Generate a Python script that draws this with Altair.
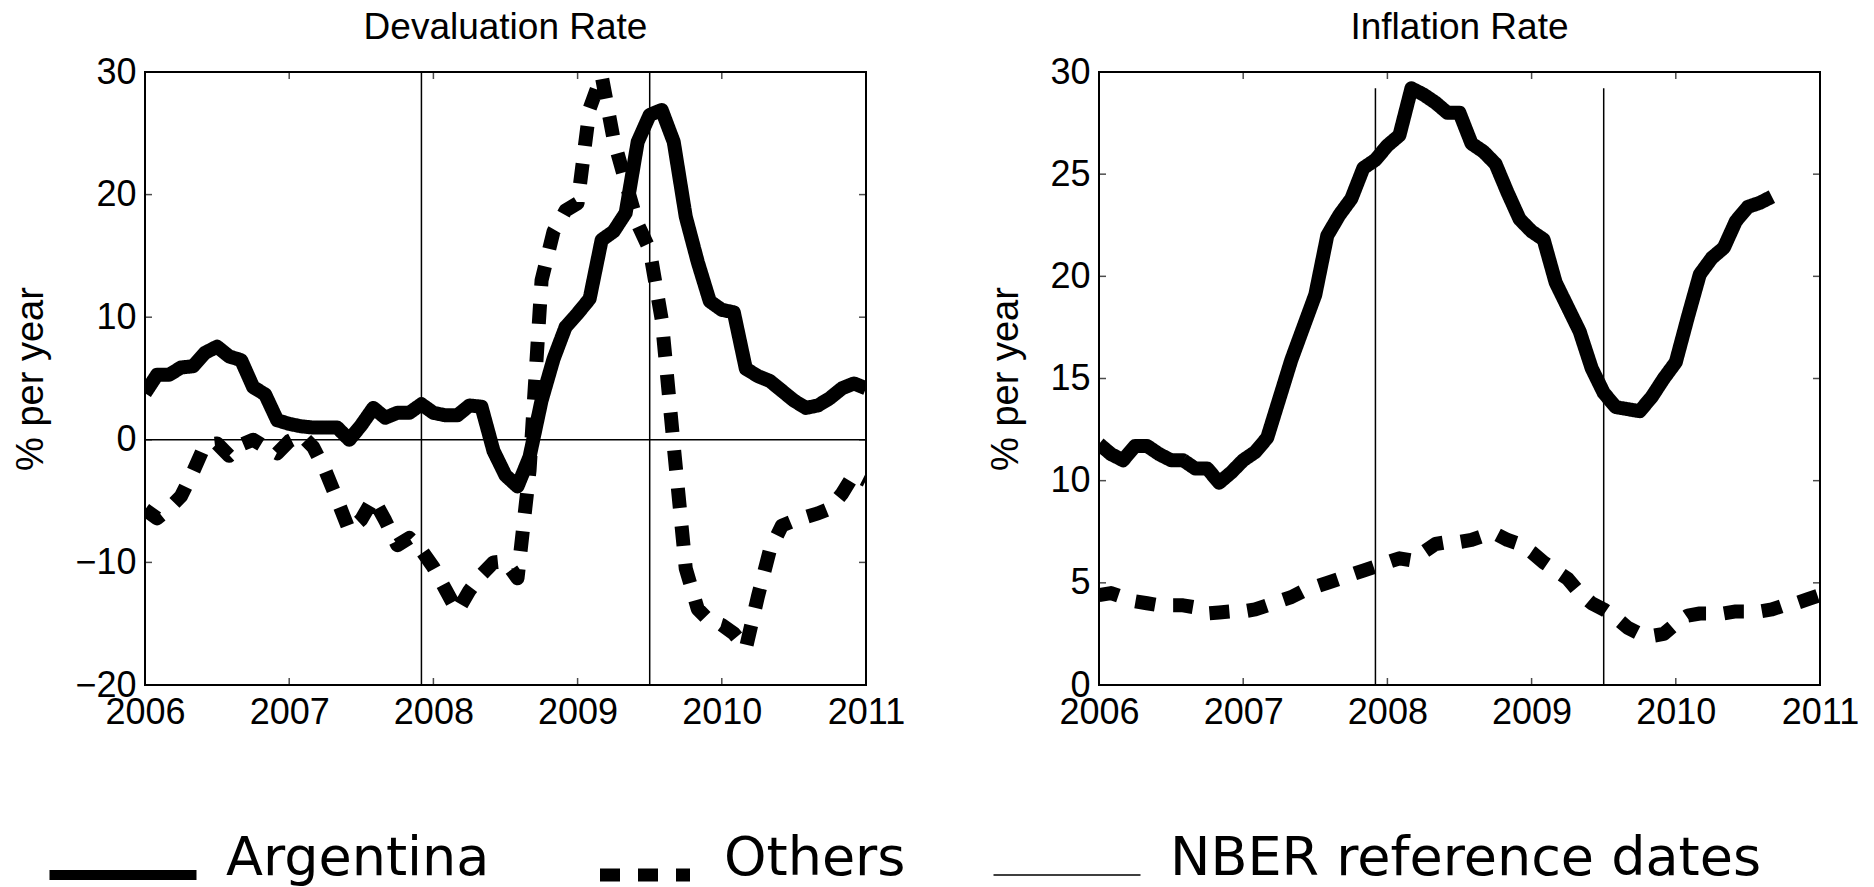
import altair as alt
import pandas as pd

# ---------------- data ----------------
series_names = ["Argentina", "Others", "NBER reference dates"]
year_ticks = [2006, 2007, 2008, 2009, 2010, 2011]
deval_ticks = [-20, -10, 0, 10, 20, 30]
infl_ticks = [0, 5, 10, 15, 20, 25, 30]
nber_dates = [2007.917, 2009.5]

# monthly observations, month 0 = Jan 2006
arg_deval = [3.8, 5.3, 5.3, 5.9, 6.0, 7.1, 7.6, 6.8, 6.5, 4.3,
             3.7, 1.6, 1.3, 1.1, 1.0, 1.0, 1.0, 0.0, 1.2, 2.6,
             1.8, 2.2, 2.2, 2.9, 2.2, 2.0, 2.0, 2.8, 2.7, -0.9,
             -2.9, -3.8, -1.4, 3.2, 6.6, 9.2, 10.3, 11.5, 16.3, 17.0,
             18.5, 24.3, 26.5, 26.9, 24.3, 18.2, 14.5, 11.3, 10.6, 10.4,
             5.8, 5.2, 4.8, 4.0, 3.2, 2.6, 2.8, 3.4, 4.2, 4.6, 4.2]
oth_deval = [-5.7, -6.4, -5.6, -4.6, -2.6, -0.4, -0.3, -1.3, -0.4, 0.0,
             -0.6, -1.1, -0.1, 0.4, -0.6, -2.5, -4.9, -7.4, -6.5, -4.8,
             -6.6, -8.6, -8.0, -9.0, -10.4, -12.2, -14.0, -12.3, -11.0, -10.0,
             -9.9, -11.3, -2.5, 13.0, 17.0, 18.7, 19.3, 27.0, 29.7, 24.5,
             21.0, 17.6, 15.5, 9.8, -0.5, -10.5, -13.8, -14.8, -15.1, -15.8,
             -17.0, -12.8, -9.0, -7.0, -6.6, -6.3, -6.0, -5.6, -4.4, -2.8, -3.3]
arg_infl = [11.8, 11.3, 11.0, 11.7, 11.7, 11.3, 11.0, 11.0, 10.6, 10.6,
            9.9, 10.4, 11.0, 11.4, 12.1, 14.0, 15.9, 17.5, 19.1, 22.0,
            23.0, 23.8, 25.3, 25.7, 26.4, 26.9, 29.2, 28.9, 28.5, 28.0,
            28.0, 26.5, 26.1, 25.5, 24.1, 22.8, 22.2, 21.8, 19.7, 18.5,
            17.3, 15.5, 14.3, 13.6, 13.5, 13.4, 14.1, 15.0, 15.8, 18.0,
            20.1, 20.9, 21.4, 22.7, 23.4, 23.6, 23.9]
oth_infl = [4.4, 4.5, 4.3, 4.1, 4.0, 3.9, 3.9, 3.9, 3.8, 3.5,
            3.55, 3.6, 3.6, 3.7, 3.9, 4.1, 4.3, 4.6, 4.8, 5.0,
            5.2, 5.4, 5.6, 5.8, 6.0, 6.2, 6.1, 6.5, 6.9, 7.0,
            7.0, 7.1, 7.3, 7.4, 7.1, 6.9, 6.5, 6.0, 5.6, 5.2,
            4.5, 4.0, 3.7, 3.3, 2.8, 2.5, 2.4, 2.5, 3.0, 3.4,
            3.5, 3.5, 3.5, 3.6, 3.6, 3.6, 3.7, 3.9, 4.0, 4.2, 4.4]

deval_range = [-20, 30]
infl_range = [0, 30]
infl_nber_top = 29.2


def series_frame(arg, oth):
    rows = []
    for name, vals in (("Argentina", arg), ("Others", oth)):
        for m, v in enumerate(vals):
            rows.append({"t": 2006 + m / 12, "v": v, "series": name})
    return pd.DataFrame(rows)


dash_scale = alt.Scale(domain=series_names, range=[[1, 0], [20, 18], [1, 0]])

legend = alt.Legend(
    title=None, orient="none", legendX=-49, legendY=776, direction="horizontal",
    symbolType="stroke", symbolStrokeColor="black",
    symbolSize=alt.ExprRef(expr="datum.value == 'Others' ? 8100 : 21609"),
    symbolOffset=alt.ExprRef(expr="datum.value == 'Others' ? 7 : 0"),
    symbolStrokeWidth=alt.ExprRef(
        expr="datum.value == 'NBER reference dates' ? 1.5 : (datum.value == 'Others' ? 13 : 10)"),
    labelFont="DejaVu Sans", labelFontSize=54, labelColor="black",
    labelBaseline="alphabetic",
    labelOffset=alt.ExprRef(expr="datum.value == 'Others' ? 52 : 76"),
    columnPadding=84, gridAlign="none", labelLimit=0, padding=0,
)

FONT = "Liberation Sans"


def panel(title, arg, oth, yrange, yticks, nber_lo, nber_hi, zero_line):
    xs = alt.Scale(domain=[2006, 2011], nice=False, zero=False)
    ys = alt.Scale(domain=yrange, nice=False, zero=False)
    xaxis = alt.Axis(values=year_ticks, format="d", labelFont=FONT, labelFontSize=36,
                     labelColor="black", labelPadding=10, ticks=False, domain=False,
                     grid=False, labelFlush=False, labelOverlap=False, title=None)
    yaxis = alt.Axis(values=yticks, format="d", labelFont=FONT, labelFontSize=36,
                     labelColor="black", labelPadding=9, ticks=False, domain=False,
                     grid=False, labelFlush=False, labelOverlap=False,
                     title="% per year", titleFont=FONT, titleFontSize=38,
                     titleFontWeight="normal", titleColor="black", titlePadding=24)

    df = series_frame(arg, oth)
    lines = alt.Chart(df).mark_line(color="black", clip=True, strokeJoin="round",
                                    strokeWidth=14).encode(
        x=alt.X("t:Q", scale=xs, axis=xaxis),
        y=alt.Y("v:Q", scale=ys, axis=yaxis),
        strokeDash=alt.StrokeDash("series:N", scale=dash_scale, legend=legend),
    )

    nber_df = pd.DataFrame({"t": nber_dates, "lo": [nber_lo] * 2, "hi": [nber_hi] * 2,
                            "series": ["NBER reference dates"] * 2})
    nber = alt.Chart(nber_df).mark_rule(color="black", strokeWidth=1.5).encode(
        x="t:Q", y="lo:Q", y2="hi:Q",
        strokeDash=alt.StrokeDash("series:N", scale=dash_scale, legend=legend),
    )

    xt = pd.DataFrame([{"t": yr, "v": yv} for yr in year_ticks for yv in yrange])
    yt = pd.DataFrame([{"t": xv, "v": yv} for yv in yticks for xv in [2006, 2011]])
    xtick = alt.Chart(xt).mark_tick(orient="vertical", size=14, thickness=1.5,
                                    color="black", clip=True).encode(x="t:Q", y="v:Q")
    ytick = alt.Chart(yt).mark_tick(orient="horizontal", size=14, thickness=1.5,
                                    color="black", clip=True).encode(x="t:Q", y="v:Q")

    layers = [nber, lines, xtick, ytick]
    if zero_line:
        zdf = pd.DataFrame({"v": [0]})
        z = alt.Chart(zdf).mark_rule(color="black", strokeWidth=1.5).encode(y="v:Q")
        layers.insert(0, z)
    return alt.layer(*layers).properties(
        width=721, height=613,
        title=alt.TitleParams(title, font=FONT, fontSize=37, fontWeight="normal",
                              color="black", anchor="middle", offset=7),
    )


left = panel("Devaluation Rate", arg_deval, oth_deval, deval_range, deval_ticks,
             deval_range[0], deval_range[1], True)
right = panel("Inflation Rate", arg_infl, oth_infl, infl_range, infl_ticks,
              infl_range[0], infl_nber_top, False)

chart = alt.hconcat(left, right, spacing=233, bounds="flush").resolve_scale(
    strokeDash="shared"
).properties(
    padding={"left": 11, "top": 8, "right": 0, "bottom": 0},
    background="white",
).configure_view(stroke="black", strokeWidth=2)

chart.save("out.html", embed_options={"renderer": "svg", "actions": False})
